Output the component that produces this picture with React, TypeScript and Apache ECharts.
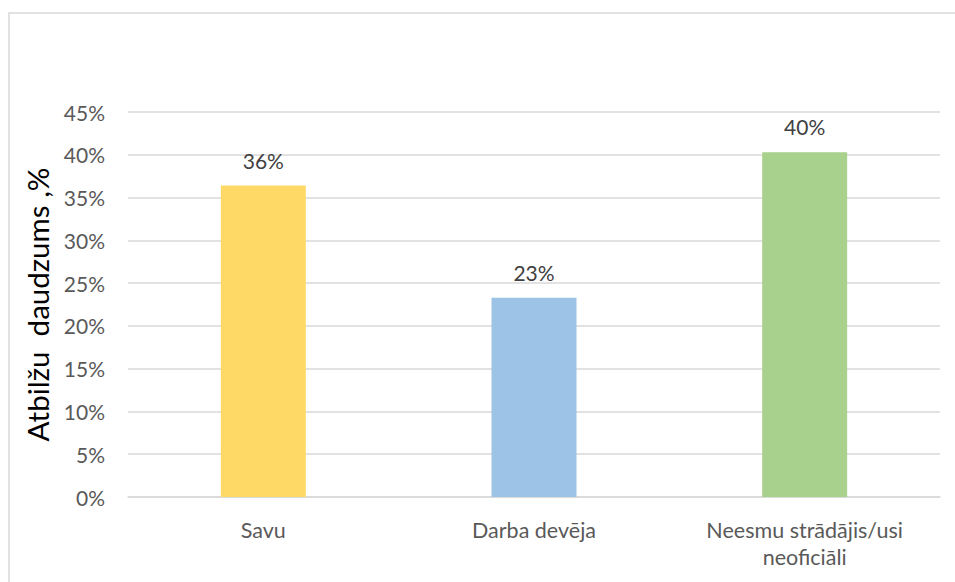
import React, { useEffect, useRef } from "react";
import * as echarts from "echarts";

const categories = ["Savu", "Darba devēja", "Neesmu strādājis/usi\nneoficiāli"];
const values = [36.4, 23.3, 40.3];
const barColors = ["#FFD966", "#9DC3E6", "#A9D18E"];
const yTicks = [0, 5, 10, 15, 20, 25, 30, 35, 40, 45];

export default function App() {
  const ref = useRef<HTMLDivElement>(null);
  useEffect(() => {
    if (!ref.current) return;
    const chart = echarts.init(ref.current, undefined, { renderer: "svg" });
    const font = "Lato, 'Open Sans', sans-serif";
    chart.setOption({
      animation: false,
      textStyle: { fontFamily: font },
      graphic: [
        {
          type: "rect",
          shape: { x: 9, y: 13, width: 960, height: 580 },
          style: { fill: "none", stroke: "#d9d9d9", lineWidth: 1.5 },
          silent: true,
        },
      ],
      grid: { left: 128, right: 15, top: 112, bottom: 85 },
      xAxis: {
        type: "category",
        data: categories,
        axisLine: { lineStyle: { color: "#d9d9d9", width: 1.5 } },
        axisTick: { show: false },
        axisLabel: { color: "#595959", fontSize: 21.5, margin: 19, lineHeight: 27, fontFamily: font },
      },
      yAxis: {
        type: "value",
        min: yTicks[0],
        max: yTicks[yTicks.length - 1],
        interval: 5,
        name: "Atbilžu  daudzums ,%",
        nameLocation: "middle",
        nameGap: 62,
        nameTextStyle: { color: "#000000", fontSize: 29.5, fontFamily: font },
        axisLine: { show: false },
        axisTick: { show: false },
        splitLine: { lineStyle: { color: "#d9d9d9", width: 1.5 } },
        axisLabel: { color: "#595959", fontSize: 21, margin: 23, formatter: (v: number) => v + "%", fontFamily: font },
      },
      series: [
        {
          type: "bar",
          barWidth: "31.4%",
          data: values.map((v, i) => ({ value: v, itemStyle: { color: barColors[i] } })),
          label: {
            show: true,
            position: "top",
            distance: 15,
            color: "#404040",
            fontSize: 21,
            fontFamily: font,
            formatter: (p: any) => Math.round(p.value) + "%",
          },
        },
      ],
    });
    return () => chart.dispose();
  }, []);
  return <div ref={ref} style={{ width: 955, height: 582, position: "absolute", left: 0, top: 0 }} />;
}
